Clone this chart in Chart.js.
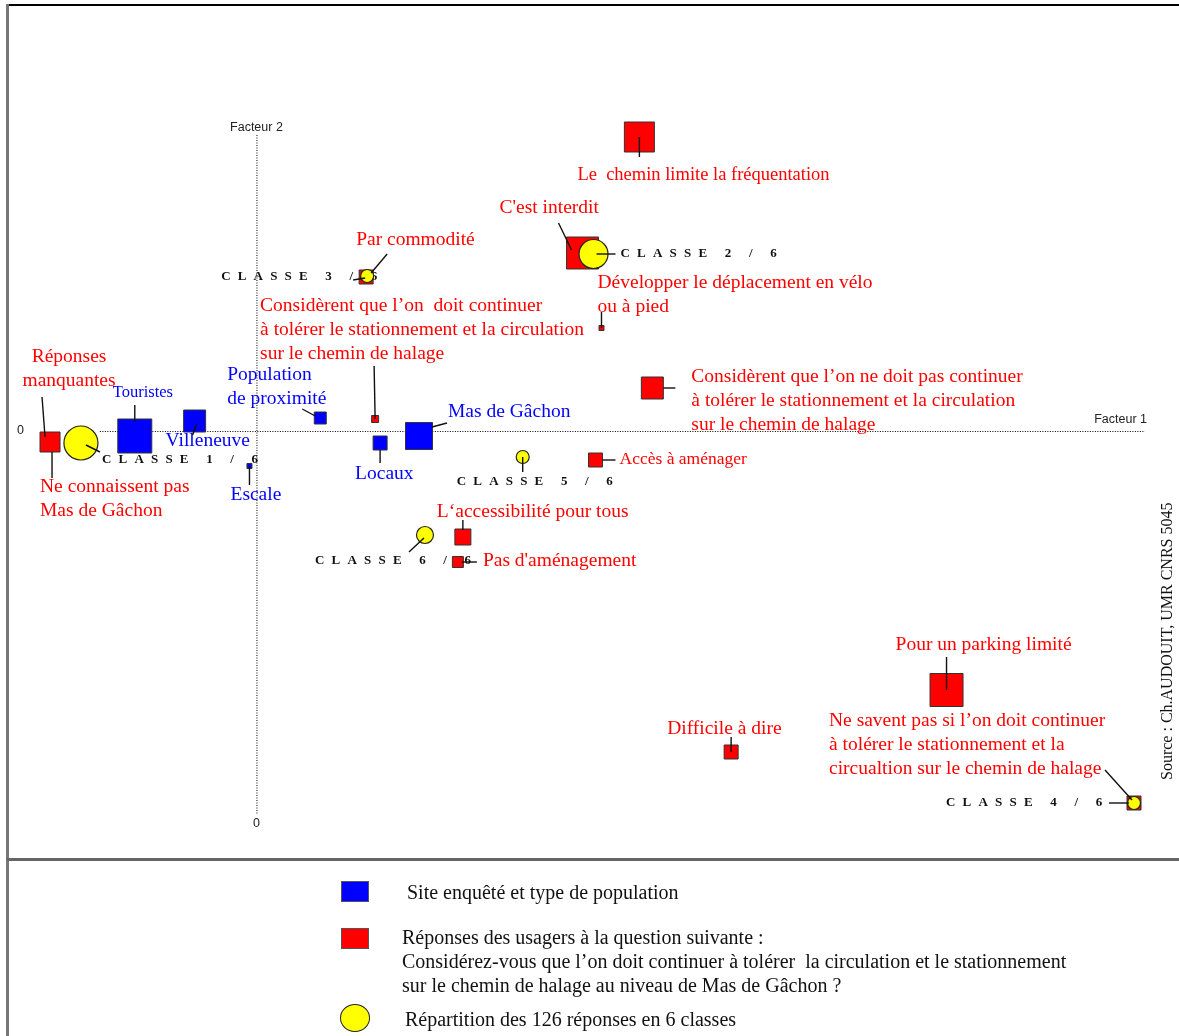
<!DOCTYPE html>
<html><head><meta charset="utf-8">
<script src="https://cdn.jsdelivr.net/npm/chart.js@4/dist/chart.umd.min.js"></script>
<style>
body{margin:0;background:#fff;}
#wrap{position:relative;width:1179px;height:1036px;overflow:hidden;background:#fff;}
#c{position:absolute;left:0;top:0;}
.fr{position:absolute;}
.lg{position:absolute;font-family:"Liberation Serif",serif;font-size:20px;line-height:24px;color:#111;white-space:nowrap;}
.mk{position:absolute;box-sizing:border-box;}
#src{position:absolute;font-family:"Liberation Serif",serif;font-size:16px;color:#111;white-space:nowrap;transform-origin:0 0;transform:rotate(-90deg);}
</style></head>
<body>
<div id="wrap">
<canvas id="c" width="1179" height="1036"></canvas>
<div class="fr" style="left:7px;top:4px;width:1172px;height:2px;background:#000"></div>
<div class="fr" style="left:6px;top:4px;width:3px;height:1032px;background:#777"></div>
<div class="fr" style="left:7px;top:858px;width:1172px;height:3px;background:#666"></div>

<div class="mk" style="left:341px;top:881px;width:28px;height:21px;background:#0000ff;border:1px solid #555"></div>
<div class="lg" style="left:407px;top:880px">Site enquêté et type de population</div>
<div class="mk" style="left:341px;top:928px;width:28px;height:21px;background:#ff0000;border:1px solid #555"></div>
<div class="lg" style="left:402px;top:925px">Réponses des usagers à la question suivante :<br>Considérez-vous que l’on doit continuer à tolérer&nbsp; la circulation et le stationnement<br>sur le chemin de halage au niveau de Mas de Gâchon ?</div>
<div class="mk" style="left:340px;top:1004px;width:30px;height:28px;background:#ffff00;border:1.5px solid #222;border-radius:50%"></div>
<div class="lg" style="left:405px;top:1007px">Répartition des 126 réponses en 6 classes</div>
<div id="src" style="left:1158px;top:780px">Source : Ch.AUDOUIT, UMR CNRS 5045</div>
</div>
<script>
// ---- DATA ----
const siteNames = ['Touristes','Villeneuve','Population\nde proximité','Escale','Locaux','Mas de Gâchon'];
const siteF1 = [-1.22,-0.62,0.64,-0.07,1.24,1.63];
const siteF2 = [-0.05,0.10,0.13,-0.35,-0.12,-0.05];
const siteWeight = [34,22,12,5,14,27];

const repNames = [
 'Réponses\nmanquantes',
 'Ne connaissent pas\nMas de Gâchon',
 'Le  chemin limite la fréquentation',
 "C'est interdit",
 'Développer le déplacement en vélo\nou à pied',
 'Par commodité',
 'Considèrent que l’on  doit continuer\nà tolérer le stationnement et la circulation\nsur le chemin de halage',
 'Considèrent que l’on ne doit pas continuer\nà tolérer le stationnement et la circulation\nsur le chemin de halage',
 'Accès à aménager',
 'L‘accessibilité pour tous',
 "Pas d'aménagement",
 'Difficile à dire',
 'Pour un parking limité',
 'Ne savent pas si l’on doit continuer\nà tolérer le stationnement et la\ncircualtion sur le chemin de halage'
];
const repF1 = [-2.12,-2.07,3.84,3.27,3.46,1.10,1.19,3.97,3.40,2.07,2.02,4.76,6.92,8.80];
const repF2 = [-0.06,-0.11,2.94,1.78,1.03,1.54,0.12,0.43,-0.29,-1.06,-1.31,-3.21,-2.59,-3.72];
const repWeight = [3,20,30,32,5,14,7,22,14,16,11,14,33,14];

const classNames = ['CLASSE 1 / 6','CLASSE 2 / 6','CLASSE 3 / 6','CLASSE 4 / 6','CLASSE 5 / 6','CLASSE 6 / 6'];
const classF1 = [-1.76,3.38,1.11,8.80,2.67,1.69];
const classF2 = [-0.12,1.77,1.55,-3.72,-0.26,-1.04];
const classWeight = [34,29,13,13,13,17];

const axisF1Range = [-1.57, 8.91];
const axisF2Range = [-3.84, 2.96];

// ---- LAYOUT (label placement relative to marks, in px) ----
const repLayout = [
 {dx:24,dy:-80,align:'center',lead:[-3,-40,0,0]},
 {dx:-10,dy:45,lead:[2,10,2,36]},
 {dx:-62,dy:38,size:18.5,lead:[0,0,0,20]},
 {dx:-83,dy:-45,lead:[-24,-30,-11,-3]},
 {dx:-4,dy:-45,lead:[0,-16,0,0]},
 {dx:-10,dy:-37,lead:[21,-23,5,-4]},
 {dx:-115,dy:-113,lead:[-1,-53,0,0]},
 {dx:39,dy:-11,lead:[11,0,23,0]},
 {dx:24,dy:-1,size:17.5,lead:[7,0,20,0]},
 {dx:-26,dy:-25,lead:[0,-17,0,-7]},
 {dx:25,dy:-1,lead:[4,0,19,0]},
 {dx:-64,dy:-23,lead:[0,-15,0,0]},
 {dx:-51,dy:-45,lead:[0,-33,0,0]},
 {dx:-305,dy:-82,lead:[-29,-33,-2,-3]}
];
const siteLayout = [
 {dx:-22,dy:-43,size:16.5,lead:[0,-31,0,-14]},
 {dx:-29,dy:20,lead:[2,3,-2,14]},
 {dx:-93,dy:-43,lead:[-18,-9,-5,-2]},
 {dx:-19,dy:29,lead:[0,0,0,19]},
 {dx:-25,dy:31,lead:[0,7,0,20]},
 {dx:29,dy:-24,lead:[13,-9,28,-13]}
];
const classLayout = [
 {dx:21,dy:17,lead:[5,2,19,9]},
 {dx:27,dy:0,lead:[3,0,22,0]},
 {dx:-146,dy:1,lead:[-14,4,-2,2]},
 {dx:-188,dy:0,lead:[-25,0,-5,0]},
 {dx:-66,dy:25,lead:[0,0,0,15]},
 {dx:-110,dy:26,lead:[-1,3,-16,17]}
];

const RED='#ff0000', BLUE='#0000ff', YELLOW='#ffff00';
const pts = (a,b)=>a.map((v,i)=>({x:v,y:b[i]}));
const sideToRadius = w => w/Math.SQRT2; // rect point style

function drawSpaced(ctx, text, x, y, sp){
  let cx = x;
  for (const ch of text){ ctx.fillText(ch, cx, y); cx += ctx.measureText(ch).width + sp; }
}

const textPlugin = {
  id:'labels',
  beforeDatasetsDraw(chart){
    const ctx = chart.ctx, xs = chart.scales.x, ys = chart.scales.y;
    ctx.save();
    const x0 = xs.getPixelForValue(0), y0 = ys.getPixelForValue(0);
    ctx.strokeStyle='#000'; ctx.lineWidth=1; ctx.setLineDash([1,1.5]);
    ctx.beginPath();
    ctx.moveTo(xs.getPixelForValue(axisF1Range[0]), y0+0.5); ctx.lineTo(xs.getPixelForValue(axisF1Range[1]), y0+0.5);
    ctx.moveTo(x0+0.5, ys.getPixelForValue(axisF2Range[1])); ctx.lineTo(x0+0.5, ys.getPixelForValue(axisF2Range[0]));
    ctx.stroke(); ctx.setLineDash([]);
    ctx.fillStyle='#222'; ctx.font='12.5px "Liberation Sans", Arial, sans-serif'; ctx.textBaseline='middle';
    ctx.textAlign='center';
    ctx.fillText('Facteur 2', x0, ys.getPixelForValue(axisF2Range[1])-7);
    ctx.fillText('0', x0, ys.getPixelForValue(axisF2Range[0])+9);
    ctx.textAlign='right';
    ctx.fillText('Facteur 1', xs.getPixelForValue(axisF1Range[1])+2, y0-11);
    ctx.fillText('0', xs.getPixelForValue(axisF1Range[0])-76, y0);
    const groups = [
      {names:repNames, layout:repLayout, color:RED, ds:1},
      {names:siteNames, layout:siteLayout, color:BLUE, ds:2}
    ];
    for (const g of groups){
      const meta = chart.getDatasetMeta(g.ds);
      g.names.forEach((n,i)=>{
        const el = meta.data[i], L = g.layout[i];
        ctx.fillStyle = g.color;
        ctx.font = (L.size||19.5)+'px "Liberation Serif", "Times New Roman", serif';
        ctx.textAlign = L.align||'left';
        n.split('\n').forEach((line,k)=> ctx.fillText(line, el.x+L.dx, el.y+L.dy+k*24));
      });
    }
    const cm = chart.getDatasetMeta(0);
    ctx.fillStyle='#111'; ctx.textAlign='left';
    ctx.font='bold 13px "Liberation Serif", "Times New Roman", serif';
    classNames.forEach((n,i)=>{
      const el = cm.data[i], L = classLayout[i];
      drawSpaced(ctx, n, el.x+L.dx, el.y+L.dy, 7.2);
    });
    ctx.restore();
  },
  afterDatasetsDraw(chart){
    const ctx = chart.ctx;
    ctx.save(); ctx.strokeStyle='#111'; ctx.lineWidth=1.4;
    const all = [[0,classLayout],[1,repLayout],[2,siteLayout]];
    for (const [d,lay] of all){
      const meta = chart.getDatasetMeta(d);
      lay.forEach((L,i)=>{
        const el = meta.data[i]; const l = L.lead;
        ctx.beginPath(); ctx.moveTo(el.x+l[0], el.y+l[1]); ctx.lineTo(el.x+l[2], el.y+l[3]); ctx.stroke();
      });
    }
    ctx.restore();
  }
};

new Chart(document.getElementById('c'), {
  type:'scatter',
  data:{datasets:[
    {label:'Classes', data:pts(classF1,classF2), pointStyle:'circle', clip:false,
     pointRadius:classWeight.map(w=>w/2), backgroundColor:YELLOW, borderColor:'#222', borderWidth:1.2},
    {label:'Réponses', data:pts(repF1,repF2), pointStyle:repWeight.map((w,i)=>i===0?'circle':'rect'), clip:false,
     pointRadius:repWeight.map((w,i)=>i===0?w/2+0.5:sideToRadius(w)), backgroundColor:RED, borderColor:'#333', borderWidth:1},
    {label:'Sites', data:pts(siteF1,siteF2), pointStyle:'rect', clip:false,
     pointRadius:siteWeight.map(sideToRadius), backgroundColor:BLUE, borderColor:'#333', borderWidth:1}
  ]},
  options:{
    responsive:false, animation:false, events:[],
    layout:{padding:{left:57,right:22,top:31,bottom:205}},
    plugins:{legend:{display:false},tooltip:{enabled:false}},
    scales:{
      x:{type:'linear',min:-2,max:9,display:false},
      y:{type:'linear',min:-4,max:4,display:false}
    }
  },
  plugins:[textPlugin]
});
</script>
</body></html>
